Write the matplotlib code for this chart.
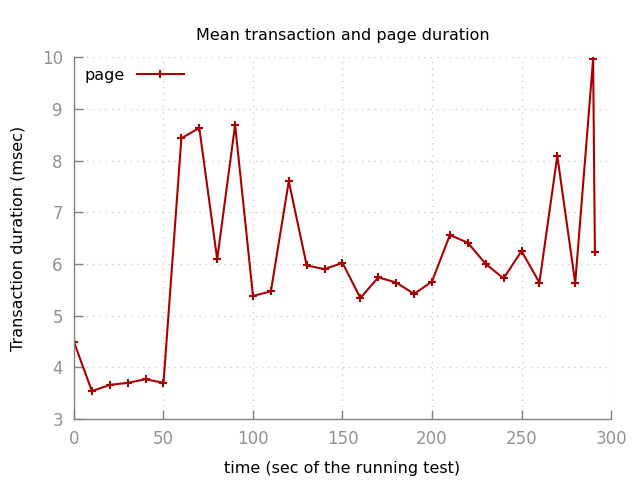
import matplotlib
matplotlib.use("Agg")
import matplotlib.pyplot as plt

time_sec = [0, 10, 20, 30, 40, 50, 60, 70, 80, 90, 100, 110, 120, 130, 140, 150,
            160, 170, 180, 190, 200, 210, 220, 230, 240, 250, 260, 270, 280, 290, 291]
page_ms = [4.49, 3.54, 3.66, 3.70, 3.77, 3.70, 8.43, 8.63, 6.09, 8.69, 5.38, 5.47,
           7.60, 5.97, 5.90, 6.02, 5.34, 5.74, 5.64, 5.42, 5.66, 6.56, 6.41, 6.00,
           5.72, 6.25, 5.64, 8.09, 5.63, 9.96, 6.23]
x_ticks = [0, 50, 100, 150, 200, 250, 300]
y_ticks = [3, 4, 5, 6, 7, 8, 9, 10]

fig = plt.figure(figsize=(6.4, 4.8), dpi=100)
ax = fig.add_axes([0.1156, 0.127, 0.8391, 0.754])

ax.plot(time_sec, page_ms, color="#a80000", lw=1.5, marker="+", ms=6, mew=1.5,
        label="page")

ax.set_xlim(0, 300)
ax.set_ylim(3, 10)
ax.set_xticks(x_ticks)
ax.set_yticks(y_ticks)

grid_color = "#c8c8c8"
ax.grid(True, color=grid_color, linestyle=(0, (1, 4)), lw=0.9)
for s in ["top", "right"]:
    ax.spines[s].set_visible(False)
for s in ["left", "bottom"]:
    ax.spines[s].set_color("#808080")
    ax.spines[s].set_linewidth(1.0)

ax.tick_params(direction="in", length=6.5, width=1.0, color="#808080",
               labelcolor="#929292", labelsize=12, pad=8)

ax.set_title("Mean transaction and page duration", fontsize=11.5, pad=12)
ax.set_xlabel("time (sec of the running test)", fontsize=11.5, labelpad=9)
ax.set_ylabel("Transaction duration (msec)", fontsize=11.5, labelpad=12)

leg = ax.legend(loc="upper left", frameon=False, markerfirst=False, fontsize=11.5,
                handlelength=2.95, handletextpad=0.75, borderaxespad=0.25)

fig.savefig("out.png", dpi=100)
